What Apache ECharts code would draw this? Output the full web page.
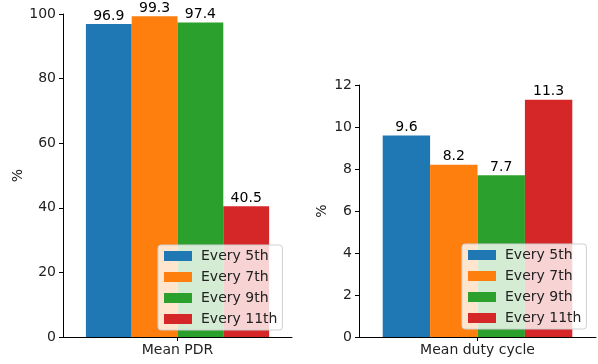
<!DOCTYPE html>
<html>
<head>
<meta charset="utf-8">
<script src="https://cdn.jsdelivr.net/npm/echarts@6/dist/echarts.min.js"></script>
<style>
  html, body { margin: 0; padding: 0; background: #fff; }
  #main { width: 598px; height: 364px; }
</style>
</head>
<body>
<div id="main"></div>
<script>
var seriesNames = ['Every 5th', 'Every 7th', 'Every 9th', 'Every 11th'];
var colors = ['#1f77b4', '#ff7f0e', '#2ca02c', '#d62728'];
var pdrCategory = ['Mean PDR'];
var dutyCategory = ['Mean duty cycle'];
var pdrValues = [96.9, 99.3, 97.4, 40.5];
var dutyValues = [9.6, 8.2, 7.7, 11.3];

var font = 'DejaVu Sans';
var fs = 14;
var chart = echarts.init(document.getElementById('main'), null, { renderer: 'canvas' });

function xAxisFor(idx, cats) {
  return {
    type: 'category',
    gridIndex: idx,
    data: cats,
    axisLine: { lineStyle: { color: '#000', width: 1 } },
    axisTick: { show: true, alignWithLabel: true, length: 4, lineStyle: { color: '#000' } },
    axisLabel: { color: '#222', fontFamily: font, fontSize: fs, margin: 6 }
  };
}

function yAxisFor(idx, max, interval, gap) {
  return {
    type: 'value',
    gridIndex: idx,
    min: 0,
    max: max,
    interval: interval,
    name: '%',
    nameLocation: 'middle',
    nameGap: gap,
    nameRotate: 90,
    nameTextStyle: { color: '#222', fontFamily: font, fontSize: fs },
    axisLine: { show: true, lineStyle: { color: '#000', width: 1 } },
    axisTick: { show: true, length: 4, lineStyle: { color: '#000' } },
    axisLabel: { color: '#222', fontFamily: font, fontSize: fs, margin: 7 },
    splitLine: { show: false }
  };
}

var series = [];
seriesNames.forEach(function (name, i) {
  series.push({
    name: name, type: 'bar', xAxisIndex: 0, yAxisIndex: 0,
    data: [pdrValues[i]], barGap: '0%', barCategoryGap: '20%',
    itemStyle: { color: colors[i] },
    label: { show: true, position: 'top', distance: 1, color: '#000', fontFamily: font, fontSize: fs }
  });
});
seriesNames.forEach(function (name, i) {
  series.push({
    name: name, type: 'bar', xAxisIndex: 1, yAxisIndex: 1,
    data: [dutyValues[i]], barGap: '0%', barCategoryGap: '20%',
    itemStyle: { color: colors[i] },
    label: { show: true, position: 'top', distance: 1, color: '#000', fontFamily: font, fontSize: fs }
  });
});

function legendAt(left, top) {
  return {
    orient: 'vertical',
    left: left,
    top: top,
    data: seriesNames,
    icon: 'rect',
    itemWidth: 28,
    itemHeight: 10,
    itemGap: 7,
    padding: [4, 5, 4, 6],
    backgroundColor: 'rgba(255,255,255,0.8)',
    borderColor: '#d0d0d0',
    borderWidth: 1,
    borderRadius: 3,
    selectedMode: false,
    textStyle: { color: '#222', fontFamily: font, fontSize: fs, lineHeight: 14, padding: [0, 0, 0, 4] }
  };
}

var option = {
  animation: false,
  backgroundColor: '#fff',
  grid: [
    { left: 63, right: 306, top: 14, bottom: 27 },
    { left: 359, right: 2, top: 85, bottom: 27 }
  ],
  xAxis: [xAxisFor(0, pdrCategory), xAxisFor(1, dutyCategory)],
  yAxis: [yAxisFor(0, 100, 20, 38), yAxisFor(1, 12, 2, 30)],
  legend: [legendAt(158, 245), legendAt(462, 244)],
  series: series
};

chart.setOption(option);
</script>
</body>
</html>
